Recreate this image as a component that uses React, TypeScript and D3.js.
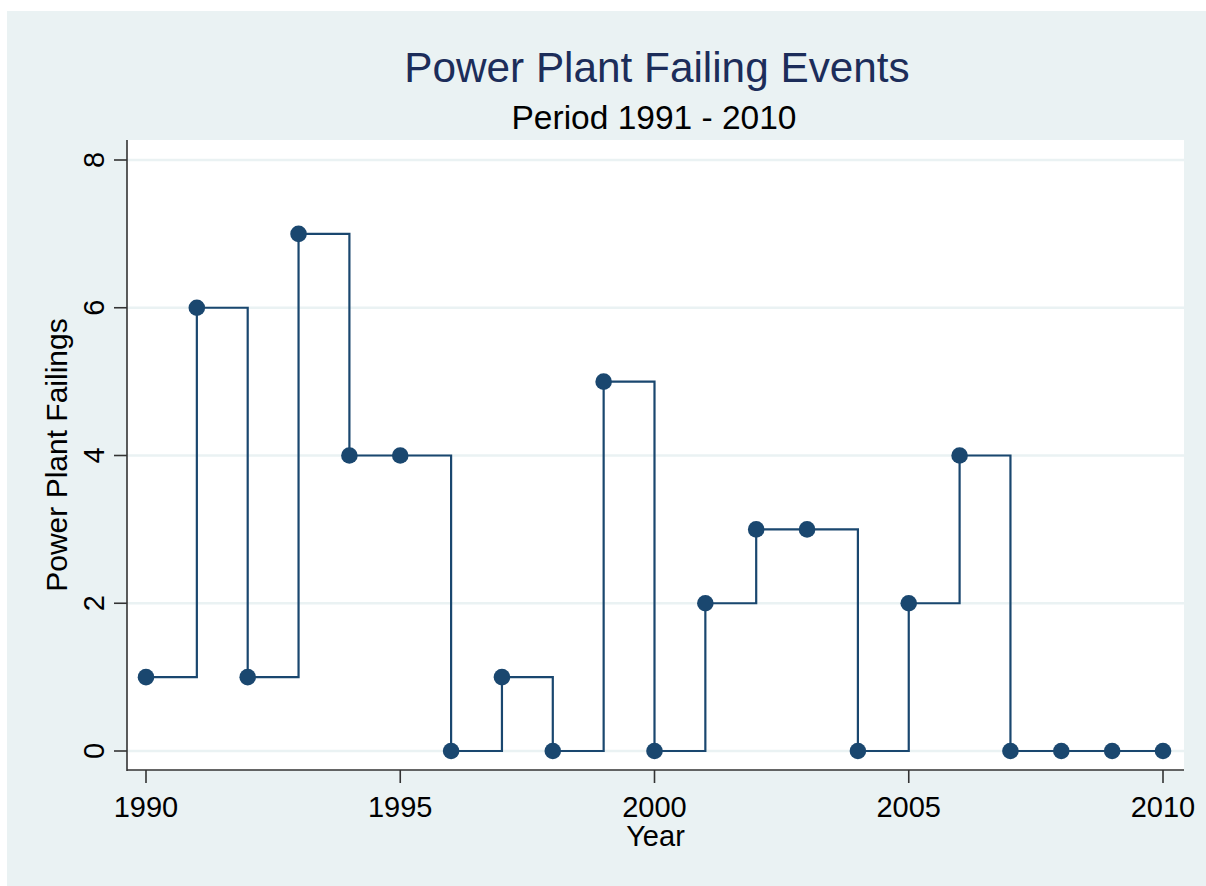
import React from "react";
import * as d3 from "d3";

const years = [1990, 1991, 1992, 1993, 1994, 1995, 1996, 1997, 1998, 1999, 2000, 2001, 2002, 2003, 2004, 2005, 2006, 2007, 2008, 2009, 2010];
const failings = [1, 6, 1, 7, 4, 4, 0, 1, 0, 5, 0, 2, 3, 3, 0, 2, 4, 0, 0, 0, 0];
const xTicks = [1990, 1995, 2000, 2005, 2010];
const yTicks = [0, 2, 4, 6, 8];

const W = 1206;
const H = 886;
const plot = { left: 127, top: 140, right: 1184, bottom: 770 };
const NAVY = "#1a476f";
const FONT = "'Liberation Sans', Arial, sans-serif";

export default function App() {
  const x = d3.scaleLinear().domain([1990, 2010]).range([146, 1163]);
  const y = d3.scaleLinear().domain([0, 8]).range([751, 160]);
  const data = years.map((yr, i) => ({ yr, v: failings[i] }));
  const line = d3
    .line<{ yr: number; v: number }>()
    .x((d) => x(d.yr))
    .y((d) => y(d.v))
    .curve(d3.curveStepAfter);
  const cx = (plot.left + plot.right) / 2;
  const cy = (plot.top + plot.bottom) / 2;
  return (
    <div style={{ position: "absolute", left: 0, top: 0 }}>
      <svg width={W} height={H} style={{ display: "block" }} fontFamily={FONT}>
        <rect x={0} y={0} width={W} height={H} fill="#ffffff" />
        <rect x={7} y={11} width={W - 7} height={H - 11} fill="#eaf2f3" />
        <rect
          x={plot.left}
          y={plot.top}
          width={plot.right - plot.left}
          height={plot.bottom - plot.top}
          fill="#ffffff"
        />
        {yTicks.map((t) => (
          <line key={"g" + t} x1={plot.left} x2={plot.right} y1={y(t)} y2={y(t)} stroke="#eaf2f3" strokeWidth={2.5} />
        ))}
        <path d={line(data) || ""} fill="none" stroke={NAVY} strokeWidth={2.2} />
        {data.map((d) => (
          <circle key={d.yr} cx={x(d.yr)} cy={y(d.v)} r={8.3} fill={NAVY} />
        ))}
        {/* axes */}
        <line x1={plot.left} x2={plot.left} y1={plot.top} y2={plot.bottom + 1} stroke="#333333" strokeWidth={1.6} />
        <line x1={plot.left} x2={plot.right} y1={plot.bottom} y2={plot.bottom} stroke="#333333" strokeWidth={1.6} />
        {yTicks.map((t) => (
          <g key={"yt" + t}>
            <line x1={plot.left - 13} x2={plot.left} y1={y(t)} y2={y(t)} stroke="#333333" strokeWidth={1.6} />
            <text
              transform={`translate(${104},${y(t)}) rotate(-90)`}
              textAnchor="middle"
              fontSize={29}
              fill="#000"
            >
              {t}
            </text>
          </g>
        ))}
        {xTicks.map((t) => (
          <g key={"xt" + t}>
            <line x1={x(t)} x2={x(t)} y1={plot.bottom} y2={plot.bottom + 13} stroke="#333333" strokeWidth={1.6} />
            <text x={x(t)} y={817} textAnchor="middle" fontSize={29} fill="#000">
              {t}
            </text>
          </g>
        ))}
        <text x={cx} y={846} textAnchor="middle" fontSize={29} fill="#000">
          Year
        </text>
        <text transform={`translate(${67},${cy}) rotate(-90)`} textAnchor="middle" fontSize={30} fill="#000">
          Power Plant Failings
        </text>
        <text x={657} y={82} textAnchor="middle" fontSize={42.3} fill="#1c2d5a">
          Power Plant Failing Events
        </text>
        <text x={654} y={129} textAnchor="middle" fontSize={33.5} fill="#000">
          Period 1991 - 2010
        </text>
      </svg>
    </div>
  );
}
